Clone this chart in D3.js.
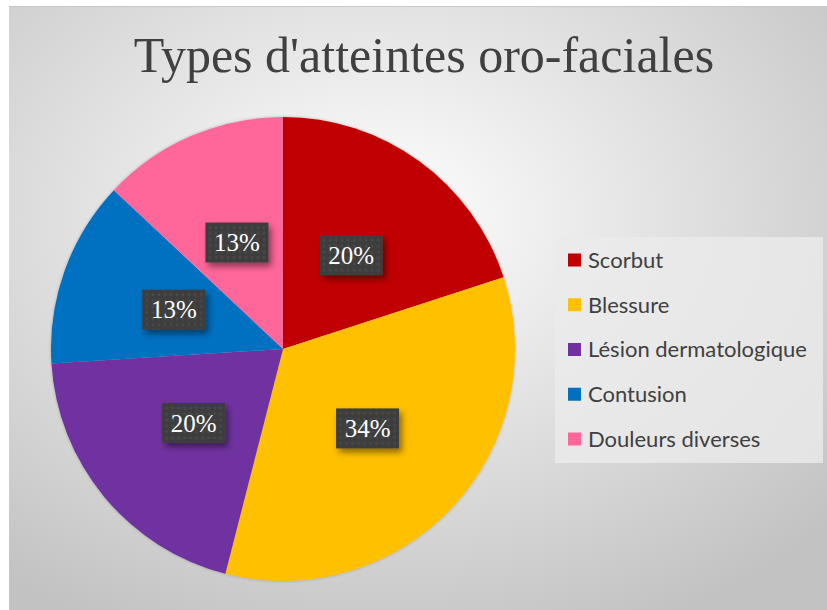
<!DOCTYPE html>
<html>
<head>
<meta charset="utf-8">
<script src="https://cdn.jsdelivr.net/npm/d3@7"></script>
<style>
  body { margin: 0; background: #fff; }
  svg { display: block; }
</style>
</head>
<body>
<svg width="827" height="610"></svg>
<script>
const categories = ["Scorbut", "Blessure", "Lésion dermatologique", "Contusion", "Douleurs diverses"];
const values = [20, 34, 20, 13, 13];
const labels = ["20%", "34%", "20%", "13%", "13%"];
const colors = ["#c00000", "#ffc000", "#7030a0", "#0070c0", "#ff6699"];

const svg = d3.select("svg");
const defs = svg.append("defs");

// fond gris dégradé
const grad = defs.append("radialGradient")
    .attr("id", "bg")
    .attr("cx", "45%").attr("cy", "35%").attr("r", "75%");
grad.append("stop").attr("offset", "0%").attr("stop-color", "#ffffff");
grad.append("stop").attr("offset", "100%").attr("stop-color", "#c2c2c2");

// motif des étiquettes
const pat = defs.append("pattern")
    .attr("id", "dots")
    .attr("width", 6).attr("height", 6)
    .attr("patternUnits", "userSpaceOnUse");
pat.append("rect").attr("width", 6).attr("height", 6).attr("fill", "#3e3e3e");
pat.append("circle").attr("cx", 3).attr("cy", 3).attr("r", 1.3).attr("fill", "#4a4a4a");

const shadow = defs.append("filter").attr("id", "shadow")
    .attr("x", "-20%").attr("y", "-20%").attr("width", "150%").attr("height", "160%");
shadow.append("feDropShadow")
    .attr("dx", 3).attr("dy", 4).attr("stdDeviation", 3)
    .attr("flood-color", "#000").attr("flood-opacity", 0.45);

const pieShadow = defs.append("filter").attr("id", "pieShadow")
    .attr("x", "-10%").attr("y", "-10%").attr("width", "120%").attr("height", "120%");
pieShadow.append("feDropShadow")
    .attr("dx", 0).attr("dy", 0).attr("stdDeviation", 1.5)
    .attr("flood-color", "#000").attr("flood-opacity", 0.25);

const chart = { x: 9, y: 6, width: 818, height: 604 };

svg.append("rect")
    .attr("x", chart.x).attr("y", chart.y)
    .attr("width", chart.width).attr("height", chart.height)
    .attr("fill", "url(#bg)");
svg.append("line")
    .attr("x1", chart.x).attr("x2", chart.x + chart.width)
    .attr("y1", chart.y + 0.5).attr("y2", chart.y + 0.5)
    .attr("stroke", "#c8c8c8");

svg.append("text")
    .attr("x", 424)
    .attr("y", 72)
    .attr("text-anchor", "middle")
    .style("font-family", "'Liberation Serif', 'Times New Roman', serif")
    .style("font-size", "50px")
    .style("fill", "#404040")
    .text("Types d'atteintes oro-faciales");

const cx = 283, cy = 349, radius = 232;

const pie = d3.pie().sort(null).value(d => d)(values);
const arc = d3.arc().innerRadius(0).outerRadius(radius);
const labelArc = d3.arc().innerRadius(0).outerRadius(radius);

const g = svg.append("g").attr("transform", `translate(${cx}, ${cy})`);

g.append("g")
    .attr("filter", "url(#pieShadow)")
    .selectAll("path")
    .data(pie)
    .enter()
    .append("path")
    .attr("d", arc)
    .attr("fill", (d, i) => colors[i]);

const boxW = 63, boxH = 40;
const lab = g.selectAll(".lab")
    .data(pie)
    .enter()
    .append("g")
    .attr("transform", d => {
        const [x, y] = labelArc.centroid(d);
        return `translate(${x}, ${y})`;
    });

lab.append("rect")
    .attr("x", -boxW / 2).attr("y", -boxH / 2)
    .attr("width", boxW).attr("height", boxH)
    .attr("fill", "url(#dots)")
    .attr("filter", "url(#shadow)");

lab.append("text")
    .attr("text-anchor", "middle")
    .attr("dy", "0.35em")
    .style("font-family", "'Liberation Serif', 'Times New Roman', serif")
    .style("font-size", "25px")
    .style("fill", "#ffffff")
    .text((d, i) => labels[i]);

// légende
const legend = { x: 555, y: 237, width: 268, height: 226 };
svg.append("rect")
    .attr("x", legend.x).attr("y", legend.y)
    .attr("width", legend.width).attr("height", legend.height)
    .attr("fill", "#ebebeb")
    .attr("fill-opacity", 0.8);

const legY = d3.scalePoint()
    .domain(categories)
    .range([260, 439]);

const item = svg.selectAll(".leg")
    .data(categories)
    .enter()
    .append("g")
    .attr("transform", d => `translate(568, ${legY(d)})`);

item.append("rect")
    .attr("x", 0).attr("y", -6.5)
    .attr("width", 13).attr("height", 13)
    .attr("fill", (d, i) => colors[i]);

item.append("text")
    .attr("x", 20)
    .attr("dy", "0.36em")
    .style("font-family", "Lato, 'Open Sans', sans-serif")
    .style("font-size", "22px")
    .style("fill", "#404040")
    .text(d => d);
</script>
</body>
</html>
